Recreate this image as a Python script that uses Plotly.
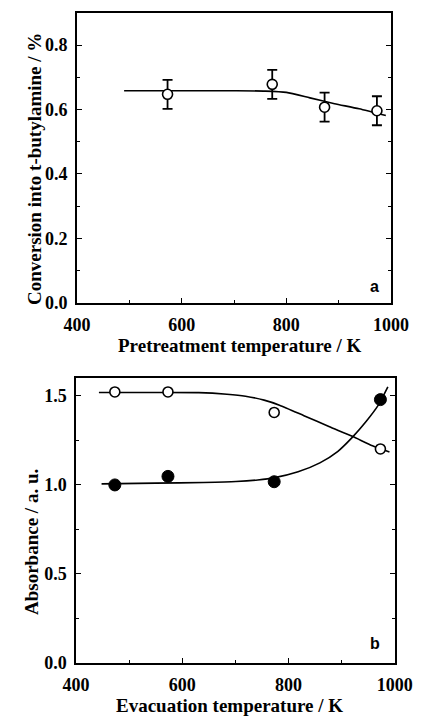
import plotly.graph_objects as go

# ---- Panel a: conversion into t-butylamine vs pretreatment temperature ----
pre_temp = [573, 773, 873, 973]
conversion = [0.647, 0.678, 0.607, 0.596]
conversion_err = [0.045, 0.045, 0.045, 0.045]

# smooth guide curve through the conversion data
fit_a_x = [490, 600, 700, 760, 800, 845, 892, 939, 990]
fit_a_y = [0.658, 0.658, 0.658, 0.657, 0.653, 0.636, 0.618, 0.602, 0.581]

# ---- Panel b: absorbance vs evacuation temperature ----
evac_temp = [473, 573, 773, 973]
abs_open = [1.52, 1.52, 1.405, 1.20]
abs_filled = [0.998, 1.046, 1.016, 1.477]

fit_open_x = [443, 530, 631, 684, 719, 754, 783, 829, 876, 920, 958, 990]
fit_open_y = [1.517, 1.517, 1.516, 1.507, 1.496, 1.474, 1.446, 1.387, 1.326, 1.271, 1.218, 1.183]

fit_filled_x = [448, 550, 640, 701, 742, 774, 818, 859, 893, 920, 946, 969, 987]
fit_filled_y = [1.004, 1.008, 1.012, 1.017, 1.026, 1.039, 1.072, 1.122, 1.187, 1.265, 1.354, 1.446, 1.548]

FONT = "Liberation Serif"
W, H = 435, 723

fig = go.Figure()

line_style = dict(color="black", width=1.6, shape="spline", smoothing=0.6)

# panel a
fig.add_trace(go.Scatter(x=fit_a_x, y=fit_a_y, mode="lines", line=line_style,
                         xaxis="x", yaxis="y", showlegend=False, hoverinfo="skip"))
fig.add_trace(go.Scatter(
    x=pre_temp, y=conversion, mode="markers",
    marker=dict(symbol="circle", size=10, color="white",
                line=dict(color="black", width=1.6)),
    error_y=dict(type="data", array=conversion_err, color="black",
                 thickness=1.8, width=5),
    xaxis="x", yaxis="y", showlegend=False))

# panel b
fig.add_trace(go.Scatter(x=fit_open_x, y=fit_open_y, mode="lines", line=line_style,
                         xaxis="x2", yaxis="y2", showlegend=False, hoverinfo="skip"))
fig.add_trace(go.Scatter(x=fit_filled_x, y=fit_filled_y, mode="lines", line=line_style,
                         xaxis="x2", yaxis="y2", showlegend=False, hoverinfo="skip"))
fig.add_trace(go.Scatter(
    x=evac_temp, y=abs_open, mode="markers",
    marker=dict(symbol="circle", size=10, color="white",
                line=dict(color="black", width=1.6)),
    xaxis="x2", yaxis="y2", showlegend=False))
fig.add_trace(go.Scatter(
    x=evac_temp, y=abs_filled, mode="markers",
    marker=dict(symbol="circle", size=12, color="black",
                line=dict(color="black", width=1)),
    xaxis="x2", yaxis="y2", showlegend=False))

tickfont = dict(family=FONT, size=18, color="black", weight="bold")

def xaxis_cfg(domain, anchor):
    return dict(domain=domain, anchor=anchor, range=[400, 1000],
                tickvals=[400, 600, 800, 1000], ticks="inside", ticklen=5,
                tickwidth=1.3, tickcolor="black", ticklabelstandoff=5,
                minor=dict(ticks="inside", ticklen=3, tickvals=[500, 700, 900],
                           tickcolor="black", tickwidth=1),
                showline=True, linecolor="black", linewidth=1.6, mirror=True,
                showgrid=False, zeroline=False, tickfont=tickfont)

def yaxis_cfg(domain, anchor, rng, major, minor, fmt):
    return dict(domain=domain, anchor=anchor, range=rng,
                tickvals=major, tickformat=fmt, ticks="inside", ticklen=5,
                tickwidth=1.3, tickcolor="black", ticklabelstandoff=4,
                minor=dict(ticks="inside", ticklen=3, tickvals=minor,
                           tickcolor="black", tickwidth=1),
                showline=True, linecolor="black", linewidth=1.6, mirror="ticks",
                showgrid=False, zeroline=False, tickfont=tickfont)

xa_dom = [68 / W, 407 / W]
xb_dom = [67 / W, 411 / W]
ya_dom = [1 - 307 / H, 1 - 13 / H]
yb_dom = [1 - 672 / H, 1 - 383 / H]

title_font = dict(family=FONT, size=19, color="black", weight="bold")
panel_font = dict(family="Liberation Sans", size=16, color="black", weight="bold")

fig.update_layout(
    width=W, height=H,
    margin=dict(l=0, r=0, t=0, b=0),
    paper_bgcolor="white", plot_bgcolor="white",
    xaxis=xaxis_cfg(xa_dom, "y"),
    yaxis=yaxis_cfg(ya_dom, "x", [0, 0.9], [0, 0.2, 0.4, 0.6, 0.8],
                    [0.1, 0.3, 0.5, 0.7], ".1f"),
    xaxis2=xaxis_cfg(xb_dom, "y2"),
    yaxis2=yaxis_cfg(yb_dom, "x2", [0, 1.6], [0, 0.5, 1.0, 1.5],
                     [0.25, 0.75, 1.25], ".1f"),
    annotations=[
        dict(text="Conversion into t-butylamine / %", x=22 / W, y=1 - 171 / H,
             xref="paper", yref="paper", textangle=-90, showarrow=False,
             font=title_font, xanchor="center", yanchor="middle"),
        dict(text="Pretreatment temperature / K", x=243 / W, y=1 - 350 / H,
             xref="paper", yref="paper", showarrow=False, font=title_font,
             xanchor="center", yanchor="middle"),
        dict(text="a", x=389 / W, y=1 - 291 / H, xref="paper", yref="paper",
             showarrow=False, font=panel_font, xanchor="center",
             yanchor="middle"),
        dict(text="Absorbance / a. u.", x=19 / W, y=1 - 550 / H,
             xref="paper", yref="paper", textangle=-90, showarrow=False,
             font=title_font, xanchor="center", yanchor="middle"),
        dict(text="Evacuation temperature / K", x=233 / W, y=1 - 715 / H,
             xref="paper", yref="paper", showarrow=False, font=title_font,
             xanchor="center", yanchor="middle"),
        dict(text="b", x=390 / W, y=1 - 653 / H, xref="paper", yref="paper",
             showarrow=False, font=panel_font, xanchor="center",
             yanchor="middle"),
    ],
)

fig.write_html("out.html")
